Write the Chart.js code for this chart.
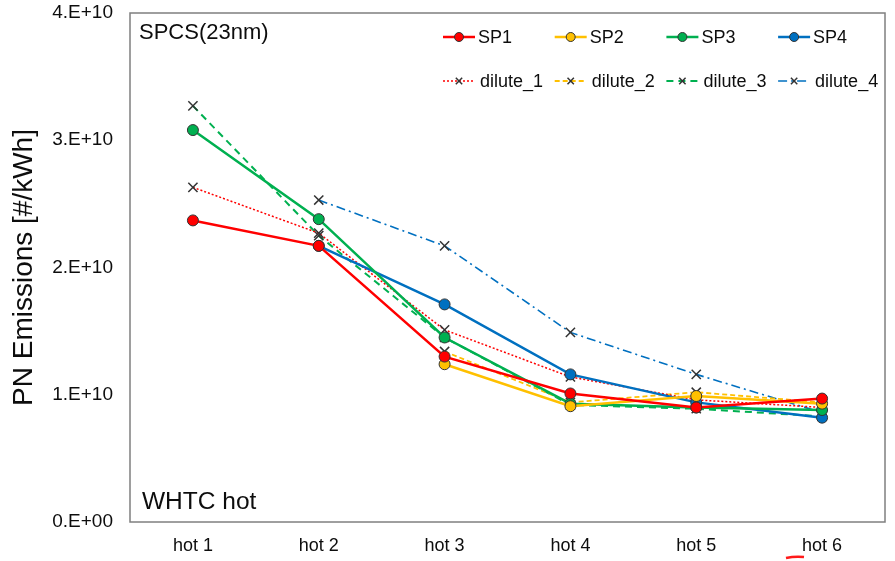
<!DOCTYPE html>
<html>
<head>
<meta charset="utf-8">
<script src="https://cdn.jsdelivr.net/npm/chart.js@4/dist/chart.umd.min.js"></script>
<style>
  html, body { margin: 0; padding: 0; background: #fff; }
  #wrap { width: 895px; height: 561px; }
</style>
</head>
<body>
<div id="wrap"><canvas id="pn-chart" width="895" height="561"></canvas></div>
<script>
'use strict';

// WHTC hot-start PN emissions per run, SPCS vs. dilute sampling (#/kWh).
var cycles = ['hot 1', 'hot 2', 'hot 3', 'hot 4', 'hot 5', 'hot 6'];

var sp1 = [2.37e10, 2.17e10, 1.30e10, 1.01e10, 0.90e10, 0.97e10];
var sp2 = [null, null, 1.24e10, 0.91e10, 0.99e10, 0.93e10];
var sp3 = [3.08e10, 2.38e10, 1.45e10, 0.93e10, 0.90e10, 0.88e10];
var sp4 = [null, 2.17e10, 1.71e10, 1.16e10, 0.94e10, 0.82e10];

var dilute1 = [2.63e10, 2.27e10, 1.51e10, 1.14e10, 0.96e10, 0.90e10];
var dilute2 = [null, null, 1.34e10, 0.94e10, 1.02e10, 0.94e10];
var dilute3 = [3.27e10, 2.25e10, 1.45e10, 0.92e10, 0.89e10, 0.83e10];
var dilute4 = [null, 2.53e10, 2.17e10, 1.49e10, 1.16e10, 0.86e10];

var yTicks = [0, 1e10, 2e10, 3e10, 4e10];

var FONT = '"Liberation Sans", Arial, sans-serif';
var INK = '#0d0d0d';
var RED = '#ff0000', YELLOW = '#ffc000', GREEN = '#00b050', BLUE = '#0070c0';

function spSeries(label, data, color) {
  return {
    label: label, data: data,
    borderColor: color, backgroundColor: color, borderWidth: 2.5,
    pointStyle: 'circle', pointRadius: 5.5, pointBorderColor: '#333333',
    pointBorderWidth: 1, pointBackgroundColor: color, tension: 0
  };
}

function diluteSeries(label, data, color, dash, width) {
  return {
    label: label, data: data,
    borderColor: color, backgroundColor: color, borderWidth: width, borderDash: dash,
    pointStyle: 'crossRot', pointRadius: 6.5, pointBorderColor: '#333333',
    pointBorderWidth: 1.5, tension: 0
  };
}

var datasets = [
  spSeries('SP1', sp1, RED),
  spSeries('SP2', sp2, YELLOW),
  spSeries('SP3', sp3, GREEN),
  spSeries('SP4', sp4, BLUE),
  diluteSeries('dilute_1', dilute1, RED, [2, 2], 1.5),
  diluteSeries('dilute_2', dilute2, YELLOW, [5, 3], 1.8),
  diluteSeries('dilute_3', dilute3, GREEN, [7, 5], 2),
  diluteSeries('dilute_4', dilute4, BLUE, [9, 4, 2, 4], 1.6)
];

// plot frame, two-row legend and the corner notes
var decorations = {
  id: 'decorations',
  beforeDatasetsDraw: function (chart) {
    var a = chart.chartArea, ctx = chart.ctx;
    ctx.save();
    ctx.strokeStyle = '#7f7f7f';
    ctx.lineWidth = 1.5;
    ctx.strokeRect(a.left, a.top, a.right - a.left, a.bottom - a.top);
    ctx.restore();
  },
  afterDraw: function (chart) {
    var a = chart.chartArea, ctx = chart.ctx;
    ctx.save();
    ctx.fillStyle = INK;
    ctx.textBaseline = 'alphabetic';
    ctx.font = '22px ' + FONT;
    ctx.fillText('SPCS(23nm)', a.left + 9, a.top + 26);
    ctx.font = '24.5px ' + FONT;
    ctx.fillText('WHTC hot', a.left + 12, a.bottom - 13);

    // legend
    ctx.font = '18px ' + FONT;
    chart.data.datasets.forEach(function (ds, i) {
      var col = i % 4, row = Math.floor(i / 4);
      var x0 = 443 + col * 111.7;
      var y = row === 0 ? 37 : 81;
      var len = 32;
      ctx.save();
      ctx.strokeStyle = ds.borderColor;
      ctx.lineWidth = ds.borderWidth;
      ctx.setLineDash(ds.borderDash || []);
      ctx.beginPath();
      ctx.moveTo(x0, y);
      ctx.lineTo(x0 + len, y);
      ctx.stroke();
      ctx.setLineDash([]);
      var style = {
        pointStyle: ds.pointStyle, radius: 4.5,
        borderWidth: ds.pointBorderWidth
      };
      ctx.fillStyle = ds.pointBackgroundColor || ds.borderColor;
      ctx.strokeStyle = ds.pointBorderColor;
      ctx.lineWidth = ds.pointBorderWidth;
      Chart.helpers.drawPoint(ctx, style, x0 + len / 2, y);
      ctx.restore();
      ctx.fillStyle = INK;
      ctx.textBaseline = 'middle';
      ctx.fillText(ds.label, x0 + len + (row === 0 ? 3 : 5), y + 1);
    });

    // red pen stroke under the last label
    ctx.strokeStyle = '#ff1a1a';
    ctx.lineWidth = 2.5;
    ctx.beginPath();
    ctx.moveTo(786, 558);
    ctx.quadraticCurveTo(795, 556, 804, 557);
    ctx.stroke();
    ctx.restore();
  }
};

new Chart(document.getElementById('pn-chart'), {
  type: 'line',
  data: { labels: cycles, datasets: datasets },
  plugins: [decorations],
  options: {
    responsive: false,
    animation: false,
    layout: { padding: { top: 13, right: 10, left: 0, bottom: 0 } },
    plugins: { legend: { display: false }, tooltip: { enabled: false } },
    scales: {
      x: {
        offset: true,
        grid: { display: false, drawTicks: false },
        border: { display: false },
        ticks: { color: INK, font: { family: FONT, size: 18 }, padding: 13 },
        afterFit: function (s) { s.height = 39; s.paddingLeft = 0; s.paddingRight = 0; }
      },
      y: {
        min: 0, max: 4e10,
        grid: { display: false, drawTicks: false },
        border: { display: false },
        afterBuildTicks: function (s) { s.ticks = yTicks.map(function (v) { return { value: v }; }); },
        ticks: {
          color: INK, font: { family: FONT, size: 19 }, padding: 17,
          callback: function (v) {
            return v === 0 ? '0.E+00' : (v / 1e10) + '.E+10';
          }
        },
        title: {
          display: true, text: 'PN Emissions [#/kWh]', color: INK,
          font: { family: FONT, size: 28 }, padding: { top: 7, bottom: 0 }
        },
        afterFit: function (s) { s.width = 130; s.paddingTop = 0; s.paddingBottom = 0; }
      }
    }
  }
});
</script>
</body>
</html>
